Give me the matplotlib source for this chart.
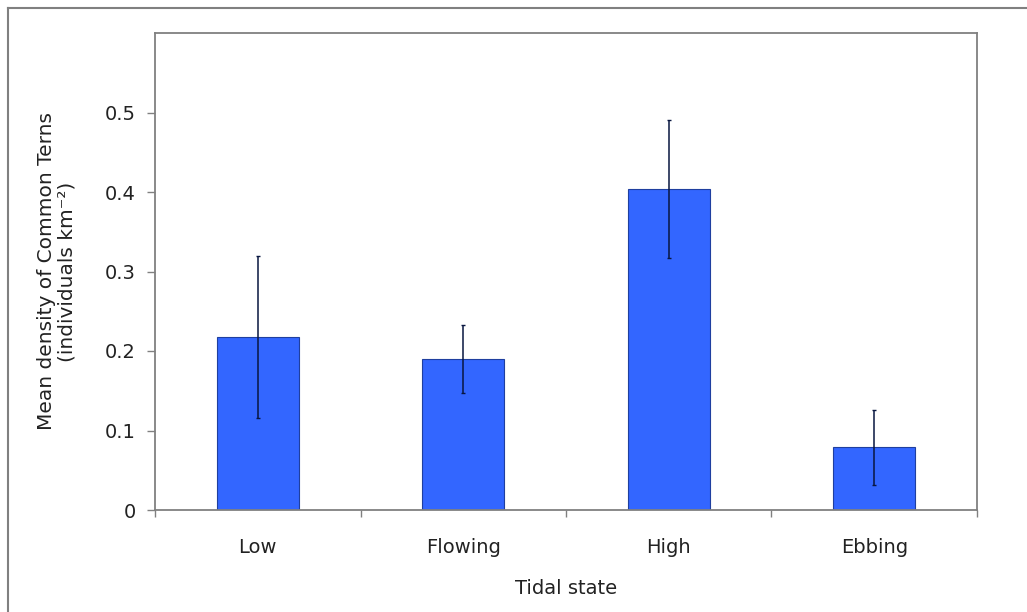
import matplotlib
matplotlib.use("Agg")
import matplotlib.pyplot as plt
from matplotlib.lines import Line2D

# ---- Data ----
states = ["Low", "Flowing", "High", "Ebbing"]
mean_density = [0.218, 0.190, 0.404, 0.079]
err_density = [0.102, 0.043, 0.087, 0.047]
y_ticks = [0, 0.1, 0.2, 0.3, 0.4, 0.5]
y_tick_labels = ["0", "0.1", "0.2", "0.3", "0.4", "0.5"]

plt.rcParams["font.family"] = ["DejaVu Sans"]
FS = 14

fig = plt.figure(figsize=(10.27, 6.12), dpi=100)
ax = fig.add_axes([155 / 1027, 102 / 612, 822 / 1027, 477 / 612])

x = list(range(len(states)))
ax.bar(x, mean_density, width=0.4, color="#3366FF", edgecolor="#1f3f9f",
       linewidth=0.8, zorder=2)
ax.errorbar(x, mean_density, yerr=err_density, fmt="none", ecolor="#081640",
            elinewidth=1.1, capsize=1.5, capthick=1.0, zorder=3)

ax.set_xlim(-0.5, len(states) - 0.5)
ax.set_ylim(0, 0.6)

ax.set_yticks(y_ticks)
ax.set_yticklabels(y_tick_labels, fontsize=FS, color="#222222")
ax.set_xticks(x)
ax.set_xticklabels(states, fontsize=FS, color="#222222")
ax.tick_params(axis="x", length=0, pad=20)
ax.set_xticks([i - 0.5 for i in range(len(states) + 1)], minor=True)
ax.tick_params(axis="x", which="minor", length=5, width=1.0, color="#808080",
               direction="out")
ax.tick_params(axis="y", length=6, width=1.0, color="#808080", direction="out",
               pad=8)

for sp in ax.spines.values():
    sp.set_color("#808080")
    sp.set_linewidth(1.3)

ax.set_xlabel("Tidal state", fontsize=FS, color="#222222", labelpad=16)
ax.set_ylabel("Mean density of Common Terns\n(individuals km\u207b\u00b2)",
              fontsize=14.5, color="#222222", labelpad=20, linespacing=1.15)

# outer chart frame (only top and left edges are visible)
fig.add_artist(Line2D([8 / 1027, 1.0], [1 - 8 / 612, 1 - 8 / 612],
                      transform=fig.transFigure, color="#808080", lw=1.5))
fig.add_artist(Line2D([8 / 1027, 8 / 1027], [0.0, 1 - 8 / 612],
                      transform=fig.transFigure, color="#808080", lw=1.5))

fig.savefig("out.png", dpi=100)
